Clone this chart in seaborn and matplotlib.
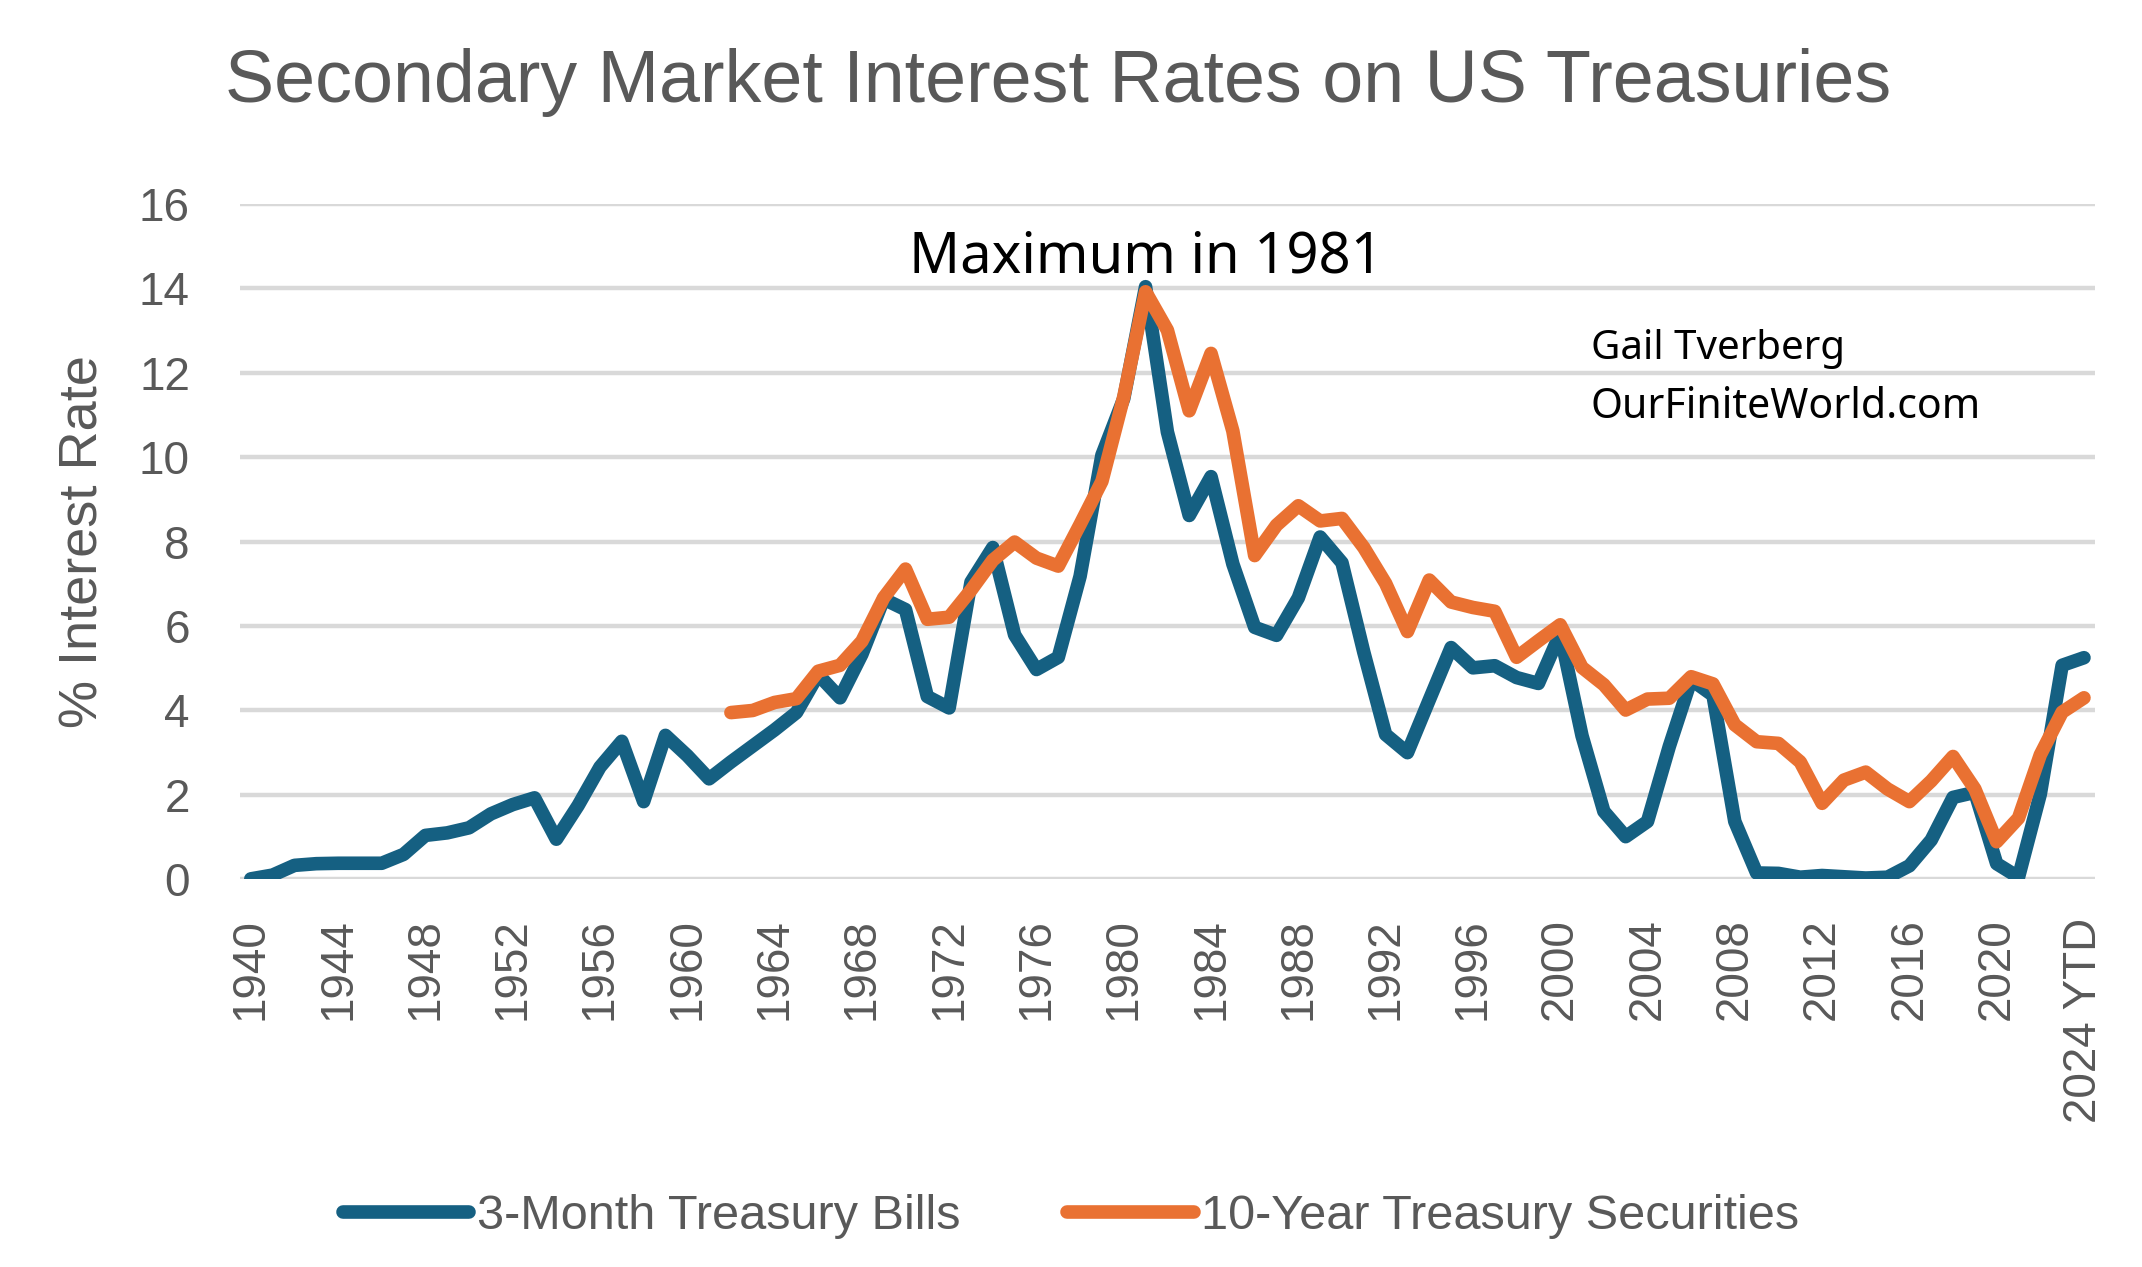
import matplotlib
matplotlib.use("Agg")
import matplotlib.pyplot as plt
import seaborn as sns
import pandas as pd

# category labels on the x axis
years = [str(y) for y in range(1940, 2024)] + ["2024 YTD"]

bills_3m = [0.01, 0.10, 0.33, 0.37, 0.38, 0.38, 0.38, 0.59, 1.04, 1.10,
            1.22, 1.55, 1.77, 1.93, 0.95, 1.75, 2.66, 3.27, 1.84, 3.41,
            2.93, 2.38, 2.78, 3.16, 3.54, 3.95, 4.85, 4.30, 5.33, 6.64,
            6.39, 4.33, 4.06, 7.04, 7.86, 5.79, 4.97, 5.26, 7.18, 10.05,
            11.39, 14.04, 10.60, 8.62, 9.54, 7.47, 5.97, 5.78, 6.67, 8.11,
            7.50, 5.38, 3.43, 3.00, 4.25, 5.49, 5.01, 5.06, 4.78, 4.64,
            5.82, 3.40, 1.61, 1.01, 1.37, 3.15, 4.73, 4.36, 1.37, 0.15,
            0.14, 0.05, 0.09, 0.06, 0.03, 0.05, 0.32, 0.93, 1.94, 2.06,
            0.37, 0.05, 2.02, 5.07, 5.25]

# 10-year series starts in 1962
notes_10y_start = 1962
notes_10y = [3.95, 4.00, 4.19, 4.28, 4.93, 5.07, 5.64, 6.67,
             7.35, 6.16, 6.21, 6.85, 7.56, 7.99, 7.61, 7.42, 8.41, 9.43,
             11.43, 13.92, 13.01, 11.10, 12.46, 10.62, 7.67, 8.39, 8.85, 8.49,
             8.55, 7.86, 7.01, 5.87, 7.09, 6.57, 6.44, 6.35, 5.26, 5.65,
             6.03, 5.02, 4.61, 4.01, 4.27, 4.29, 4.80, 4.63, 3.66, 3.26,
             3.22, 2.78, 1.80, 2.35, 2.54, 2.14, 1.84, 2.33, 2.91, 2.14,
             0.89, 1.45, 2.95, 3.96, 4.30]

series_names = ["3-Month Treasury Bills", "10-Year Treasury Securities"]
colors = ["#156082", "#E97132"]

rows = []
for i, v in enumerate(bills_3m):
    rows.append({"pos": i, "rate": v, "series": series_names[0]})
off = notes_10y_start - 1940
for i, v in enumerate(notes_10y):
    rows.append({"pos": i + off, "rate": v, "series": series_names[1]})
df = pd.DataFrame(rows)

sns.set_theme(style="white")
narrow = ["Liberation Sans", "DejaVu Sans"]
plt.rcParams["font.family"] = ["Liberation Sans", "DejaVu Sans"]
gray = "#595959"

fig = plt.figure(figsize=(21.42, 12.67), dpi=100)
ax = fig.add_axes([0.112, 0.306, 0.866, 0.533])

sns.lineplot(data=df, x="pos", y="rate", hue="series", palette=colors,
             linewidth=9.8, ax=ax, legend=True, sort=False)
for ln in ax.lines:
    ln.set_solid_capstyle("round")
    ln.set_solid_joinstyle("round")

ax.set_xlim(-0.5, len(years) - 0.5)
ax.set_ylim(0, 16)
ax.set_yticks(range(0, 17, 2))
ax.yaxis.grid(True, color="#D9D9D9", linewidth=3.2)
ax.set_axisbelow(True)
for s in ax.spines.values():
    s.set_visible(False)

tick_pos = list(range(0, 84, 4)) + [84]
ax.set_xticks(tick_pos)
ax.set_xticklabels([years[p] for p in tick_pos], rotation=90)
ax.tick_params(axis="x", length=0, pad=28, labelsize=33, labelcolor=gray)
ax.tick_params(axis="y", length=0, pad=36, labelsize=33, labelcolor=gray)
ax.set_xlabel("")
ax.set_ylabel("% Interest Rate", fontsize=39, color=gray, family=narrow,
              labelpad=22)

ax.text(41, 14.38, "Maximum in 1981", ha="center", va="baseline",
        fontsize=40.5, color="black", family=["Noto Sans", "DejaVu Sans"])
ax.text(61.4, 12.32, "Gail Tverberg", ha="left", va="baseline",
        fontsize=29, color="black", family=["Noto Sans", "DejaVu Sans"])
ax.text(61.4, 10.92, "OurFiniteWorld.com", ha="left", va="baseline",
        fontsize=29.5, color="black", family=["Noto Sans", "DejaVu Sans"])

fig.text(0.494, 1 - 102 / 1267, "Secondary Market Interest Rates on US Treasuries",
         ha="center", va="baseline", fontsize=53, color=gray, family=narrow)

handles, labels = ax.get_legend_handles_labels()
ax.get_legend().remove()
leg = fig.legend(handles, labels, loc="center", bbox_to_anchor=(0.5, 0.04),
                 ncol=2, frameon=False, handlelength=2.6, handletextpad=0.15,
                 columnspacing=2.2, prop={"family": narrow, "size": 35})
for t in leg.get_texts():
    t.set_color(gray)
for h in leg.legend_handles:
    h.set_linewidth(9.8)
    h.set_solid_capstyle("round")

fig.savefig("out.png", dpi=100)
